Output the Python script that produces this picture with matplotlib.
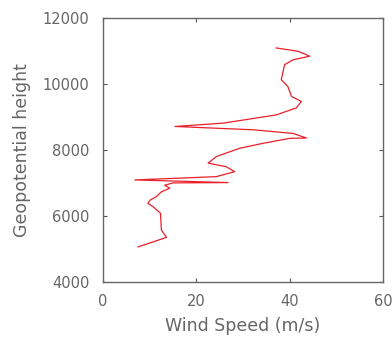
import matplotlib
matplotlib.use("Agg")
import matplotlib.pyplot as plt

wind_speed = [7.5, 13.6, 12.5, 12.3, 10.7, 9.6, 10.1, 11.4, 12.5, 14.3, 13.2, 15.0,
              26.8, 6.8, 24.3, 28.2, 26.4, 22.5, 24.3, 29.3, 34.3, 40.0, 43.6, 40.7,
              32.1, 15.4, 25.7, 37.1, 41.4, 42.5, 40.4, 39.6, 38.2, 38.9, 40.7, 44.3,
              41.8, 37.1]
geo_height = [5060, 5350, 5570, 6080, 6280, 6380, 6480, 6580, 6730, 6840, 6930, 7000,
              7010, 7090, 7190, 7340, 7490, 7600, 7800, 8050, 8200, 8350, 8360, 8500,
              8610, 8710, 8810, 9060, 9270, 9470, 9620, 9920, 10130, 10580, 10730, 10840,
              10990, 11090]
x_ticks = [0, 20, 40, 60]
y_ticks = [4000, 6000, 8000, 10000, 12000]

plt.rcParams['font.family'] = ['DejaVu Sans']
fig = plt.figure(figsize=(3.92, 3.38), dpi=100)
ax = fig.add_axes([0.263, 0.166, 0.714, 0.781])
ax.plot(wind_speed, geo_height, color='#e8202a', linewidth=0.9)
ax.set_xlim(0, 60)
ax.set_ylim(4000, 12000)
ax.set_xticks(x_ticks)
ax.set_yticks(y_ticks)
tc = '#555555'
ax.tick_params(direction='in', top=True, right=True, length=3, width=0.8,
               labelsize=10.5, colors=tc, labelcolor='#666666')
ax.tick_params(axis='y', pad=10)
ax.tick_params(axis='x', pad=9)
for s in ax.spines.values():
    s.set_color('#666666')
    s.set_linewidth(1.0)
ax.set_xlabel('Wind Speed (m/s)', fontsize=12.5, color='#666666', va='center')
ax.set_ylabel('Geopotential height', fontsize=12.5, color='#666666', va='center')
ax.xaxis.set_label_coords(0.5, -0.167)
ax.yaxis.set_label_coords(-0.289, 0.5)
fig.savefig('out.png', dpi=100)
